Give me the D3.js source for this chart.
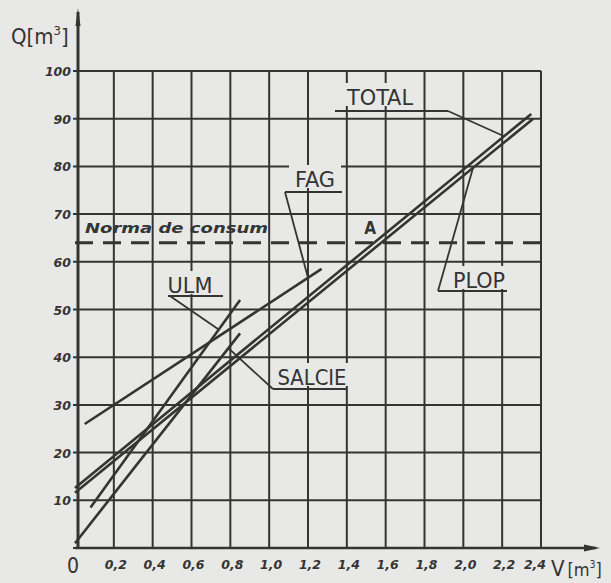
<!DOCTYPE html>
<html>
<head>
<meta charset="utf-8">
<script src="https://cdn.jsdelivr.net/npm/d3@7"></script>
<style>
  html, body { margin: 0; padding: 0; background: #e8e8e6; }
  svg { display: block; }
</style>
</head>
<body>
<svg id="chart" width="611" height="583"></svg>
<script>
// Volume V [m³] on the horizontal axis, quantity Q [m³] on the vertical axis
const vTicks = [0.2, 0.4, 0.6, 0.8, 1.0, 1.2, 1.4, 1.6, 1.8, 2.0, 2.2, 2.4];
const vTickLabels = ["0,2", "0,4", "0,6", "0,8", "1,0", "1,2", "1,4", "1,6", "1,8", "2,0", "2,2", "2,4"];
const qTicks = [10, 20, 30, 40, 50, 60, 70, 80, 90, 100];

// Straight lines per species (start and end points)
const seriesNames = ["TOTAL", "PLOP", "FAG", "ULM", "SALCIE"];
const seriesV = [[0, 2.35], [0, 2.36], [0.05, 1.27], [0.08, 0.85], [0, 0.85]];
const seriesQ = [[12.6, 91], [11.6, 90], [26, 58.5], [8.5, 52], [1, 45]];

// Consumption norm
const normLabel = "Norma de consum";
const normQ = 64;
const pointLabel = "A";

const ink = "#343434";
const paper = "#e8e8e6";
const svg = d3.select("#chart");

const x = d3.scaleLinear().domain([0, 2.4]).range([75, 541]);
const y = d3.scaleLinear().domain([0, 100]).range([548, 71]);

svg.append("rect").attr("width", 611).attr("height", 583).attr("fill", paper);

// grid
const grid = svg.append("g").attr("stroke", ink).attr("stroke-width", 2);
grid.selectAll("line.h").data([0].concat(qTicks)).join("line")
  .attr("x1", x(0) - 2).attr("x2", x(2.4))
  .attr("y1", d => y(d)).attr("y2", d => y(d));
grid.selectAll("line.v").data(vTicks).join("line")
  .attr("x1", d => x(d)).attr("x2", d => x(d))
  .attr("y1", y(0)).attr("y2", y(100));

// axes with arrows
const axes = svg.append("g").attr("stroke", ink).attr("fill", ink);
axes.append("line").attr("x1", x(0) + 3).attr("x2", x(0) + 3)
  .attr("y1", y(0)).attr("y2", 12).attr("stroke-width", 3);
axes.append("line").attr("x1", x(0)).attr("x2", 596)
  .attr("y1", y(0)).attr("y2", y(0)).attr("stroke-width", 2.5);
axes.append("path").attr("stroke", "none")
  .attr("d", `M600,${y(0)} L584,${y(0) - 3.5} L584,${y(0) + 3.5} Z`);
axes.append("path").attr("stroke", "none")
  .attr("d", `M${x(0) + 3},8 L${x(0) + 0.5},26 L${x(0) + 5.5},26 Z`);

// tick labels
const tickFont = "'DejaVu Sans', sans-serif";
svg.append("g").selectAll("text").data(qTicks).join("text")
  .attr("x", 71).attr("y", d => y(d) + 5)
  .attr("text-anchor", "end")
  .attr("font-family", tickFont).attr("font-style", "italic").attr("font-weight", "bold")
  .attr("font-size", 12.5).attr("fill", ink)
  .text(d => d);
svg.append("g").selectAll("text").data(vTicks).join("text")
  // the last label sits left of its tick to leave room for the axis title
  .attr("x", (d, i) => x(d) + (i === vTicks.length - 1 ? -6 : 2)).attr("y", 569)
  .attr("text-anchor", "middle")
  .attr("font-family", tickFont).attr("font-style", "italic").attr("font-weight", "bold")
  .attr("font-size", 12.5).attr("fill", ink)
  .text((d, i) => vTickLabels[i]);
svg.append("text").attr("x", x(0) - 2).attr("y", 573).attr("text-anchor", "middle")
  .attr("font-family", "'DejaVu Sans Condensed', sans-serif").attr("font-size", 21)
  .attr("fill", ink).text("0");

// axis titles
const titleFont = "'DejaVu Sans Condensed', 'DejaVu Sans', sans-serif";
const qTitle = svg.append("text").attr("x", 11).attr("y", 44)
  .attr("font-family", titleFont).attr("font-size", 22).attr("fill", ink);
qTitle.append("tspan").text("Q[m");
qTitle.append("tspan").attr("font-size", 13).attr("dy", -9).text("3");
qTitle.append("tspan").attr("dy", 9).text("]");
const vTitle = svg.append("text").attr("x", 551).attr("y", 576)
  .attr("font-family", titleFont).attr("font-size", 18).attr("fill", ink);
vTitle.append("tspan").attr("font-size", 22).text("V");
vTitle.append("tspan").attr("dx", 3).text("[m");
vTitle.append("tspan").attr("font-size", 10).attr("dy", -8).text("3");
vTitle.append("tspan").attr("dy", 8).text("]");

// consumption norm (dashed)
svg.append("line").attr("x1", x(0)).attr("x2", x(2.4))
  .attr("y1", y(normQ)).attr("y2", y(normQ))
  .attr("stroke", ink).attr("stroke-width", 3).attr("stroke-dasharray", "18,10");
svg.append("text").attr("x", 85).attr("y", 233)
  .attr("font-family", tickFont).attr("font-style", "italic").attr("font-weight", "bold")
  .attr("font-size", 14.5).attr("fill", ink)
  .attr("textLength", 183).attr("lengthAdjust", "spacingAndGlyphs")
  .text(normLabel);

// species lines
const lineGen = d3.line().x(d => x(d[0])).y(d => y(d[1]));
const lines = seriesNames.map((name, i) => ({
  name, pts: seriesV[i].map((v, j) => [v, seriesQ[i][j]])
}));
svg.append("g").selectAll("path").data(lines).join("path")
  .attr("d", d => lineGen(d.pts))
  .attr("fill", "none").attr("stroke", ink).attr("stroke-width", 2.6);

function qAt(name, v) {
  const s = lines.find(l => l.name === name).pts;
  const t = (v - s[0][0]) / (s[1][0] - s[0][0]);
  return s[0][1] + t * (s[1][1] - s[0][1]);
}

// label callouts: text box, underline, leader to the line
const callouts = [
  { name: "TOTAL", cx: 380, base: 105, w: 66, ux1: 335, ux2: 448, uy: 111, lx: 448, targetV: 2.21 },
  { name: "PLOP", cx: 479, base: 288, w: 52, ux1: 438, ux2: 507, uy: 291, lx: 438, targetV: 2.05 },
  { name: "FAG", cx: 315, base: 187, w: 40, ux1: 285, ux2: 342, uy: 192, lx: 285, targetV: 1.2 },
  { name: "ULM", cx: 190, base: 293, w: 45, ux1: 168, ux2: 223, uy: 296, lx: 170, targetV: 0.74 },
  { name: "SALCIE", cx: 312, base: 385, w: 69, ux1: 273, ux2: 347, uy: 389, lx: 273, targetV: 0.79 }
];
const cg = svg.append("g");
callouts.forEach(c => {
  cg.append("rect").attr("x", c.cx - c.w / 2 - 6).attr("y", c.base - 22)
    .attr("width", c.w + 12).attr("height", 23).attr("fill", paper);
  cg.append("text").attr("x", c.cx).attr("y", c.base).attr("text-anchor", "middle")
    .attr("font-family", titleFont).attr("font-size", 21).attr("fill", ink)
    .attr("textLength", c.w).attr("lengthAdjust", "spacingAndGlyphs")
    .text(c.name);
  cg.append("line").attr("x1", c.ux1).attr("x2", c.ux2).attr("y1", c.uy).attr("y2", c.uy)
    .attr("stroke", ink).attr("stroke-width", 2);
  cg.append("line").attr("x1", c.lx).attr("y1", c.uy)
    .attr("x2", x(c.targetV)).attr("y2", y(qAt(c.name, c.targetV)))
    .attr("stroke", ink).attr("stroke-width", 1.8);
});

// point A: where the total line meets the norm
const tPts = lines[0].pts;
const vA = tPts[0][0] + (normQ - tPts[0][1]) * (tPts[1][0] - tPts[0][0]) / (tPts[1][1] - tPts[0][1]);
svg.append("text").attr("x", x(vA) - 4).attr("y", y(normQ) - 9).attr("text-anchor", "middle")
  .attr("font-family", titleFont).attr("font-size", 17).attr("font-weight", "bold")
  .attr("fill", ink)
  .text(pointLabel);
</script>
</body>
</html>
